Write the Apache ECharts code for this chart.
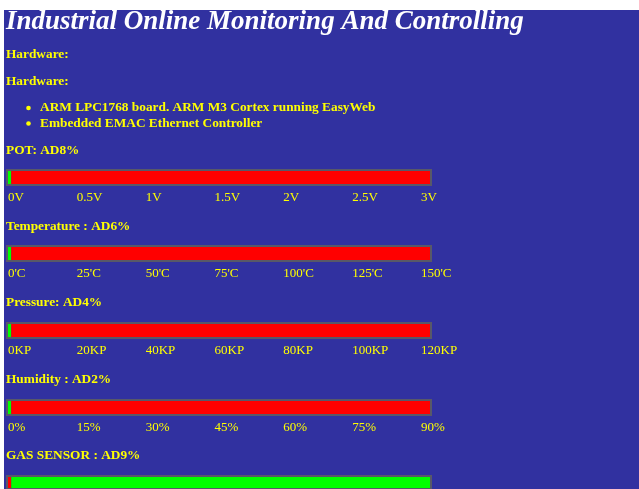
<!DOCTYPE html>
<html>
<head>
<meta charset="utf-8">
<script src="https://cdn.jsdelivr.net/npm/echarts@6/dist/echarts.min.js"></script>
<style>html,body{margin:0;padding:0;background:#fff;}#c{width:639px;height:489px;}</style>
</head>
<body>
<div id="c"></div>
<script>
// ---- data ----
const pageTitle = 'Industrial Online Monitoring And Controlling';
const headerLines = ['Hardware:', 'Hardware:'];
const bulletItems = ['ARM LPC1768 board. ARM M3 Cortex running EasyWeb', 'Embedded EMAC Ethernet Controller'];
const sensorTitles = ['POT: AD8%', 'Temperature : AD6%', 'Pressure: AD4%', 'Humidity : AD2%', 'GAS SENSOR : AD9%'];
const levelPercent = [1, 1, 1, 1, 1];
const invertedColors = [false, false, false, false, true];
const potTicks = ['0V', '0.5V', '1V', '1.5V', '2V', '2.5V', '3V'];
const tempTicks = ["0'C", "25'C", "50'C", "75'C", "100'C", "125'C", "150'C"];
const pressureTicks = ['0KP', '20KP', '40KP', '60KP', '80KP', '100KP', '120KP'];
const humidityTicks = ['0%', '15%', '30%', '45%', '60%', '75%', '90%'];
const tickRows = [potTicks, tempTicks, pressureTicks, humidityTicks];

// ---- layout / style ----
const BG = '#3131a0';
const YEL = '#ffff00';
const SERIF = '"Liberation Serif", "Times New Roman", serif';
const barTops = [169, 245, 322, 399, 475];
const headingY = [151, 227, 303, 380, 456];
const BODY = 'bold 13.33px ' + SERIF;

const graphic = [
  { type: 'rect', shape: { x: 4, y: 10, width: 700, height: 600 }, style: { fill: BG }, z: -10 },
  { type: 'text', style: { x: 6, y: 22, text: pageTitle, font: 'italic bold 27px ' + SERIF, fill: '#ffffff', verticalAlign: 'middle' } },
  { type: 'text', style: { x: 6, y: 55, text: headerLines[0], font: BODY, fill: YEL, verticalAlign: 'middle' } },
  { type: 'text', style: { x: 6, y: 82, text: headerLines[1], font: BODY, fill: YEL, verticalAlign: 'middle' } }
];
bulletItems.forEach((t, i) => {
  const y = 108 + i * 15.5;
  graphic.push({ type: 'circle', shape: { cx: 28.5, cy: y, r: 2.3 }, style: { fill: YEL } });
  graphic.push({ type: 'text', style: { x: 40, y: y, text: t, font: BODY, fill: YEL, verticalAlign: 'middle' } });
});
sensorTitles.forEach((t, i) => {
  graphic.push({ type: 'text', style: { x: 6, y: headingY[i], text: t, font: BODY, fill: YEL, verticalAlign: 'middle' } });
});

const grid = [], xAxis = [], yAxis = [], series = [];
sensorTitles.forEach((t, i) => {
  const gi = grid.length;
  grid.push({ left: 7, top: barTops[i] + 1, width: 424, height: 15, show: true, borderColor: '#585868', borderWidth: 2, backgroundColor: 'transparent', z: 5 });
  xAxis.push({ type: 'value', gridIndex: gi, min: 0, max: 100, show: false });
  yAxis.push({ type: 'category', gridIndex: gi, data: ['v'], show: false });
  const lvl = levelPercent[i];
  const cLevel = invertedColors[i] ? '#ff0000' : '#00ff00';
  const cRest = invertedColors[i] ? '#00ff00' : '#ff0000';
  series.push({ type: 'bar', xAxisIndex: gi, yAxisIndex: gi, stack: 's' + i, barWidth: '100%', data: [lvl], itemStyle: { color: cLevel }, silent: true, z: 1 });
  series.push({ type: 'bar', xAxisIndex: gi, yAxisIndex: gi, stack: 's' + i, barWidth: '100%', data: [100 - lvl], itemStyle: { color: cRest }, silent: true, z: 1 });
  if (tickRows[i]) {
    const li = grid.length;
    grid.push({ left: 8, top: barTops[i] + 17, width: 413, height: 1 });
    xAxis.push({
      type: 'category', gridIndex: li, data: tickRows[i], boundaryGap: false,
      axisLine: { show: false }, axisTick: { show: false },
      axisLabel: { show: true, interval: 0, align: 'left', margin: 4, color: YEL, fontFamily: SERIF, fontSize: 13, fontWeight: 'normal' }
    });
    yAxis.push({ type: 'value', gridIndex: li, show: false });
  }
});

const chart = echarts.init(document.getElementById('c'), null, { renderer: 'canvas' });
chart.setOption({
  backgroundColor: '#ffffff',
  animation: false,
  graphic: graphic,
  grid: grid, xAxis: xAxis, yAxis: yAxis, series: series
});
</script>
</body>
</html>
